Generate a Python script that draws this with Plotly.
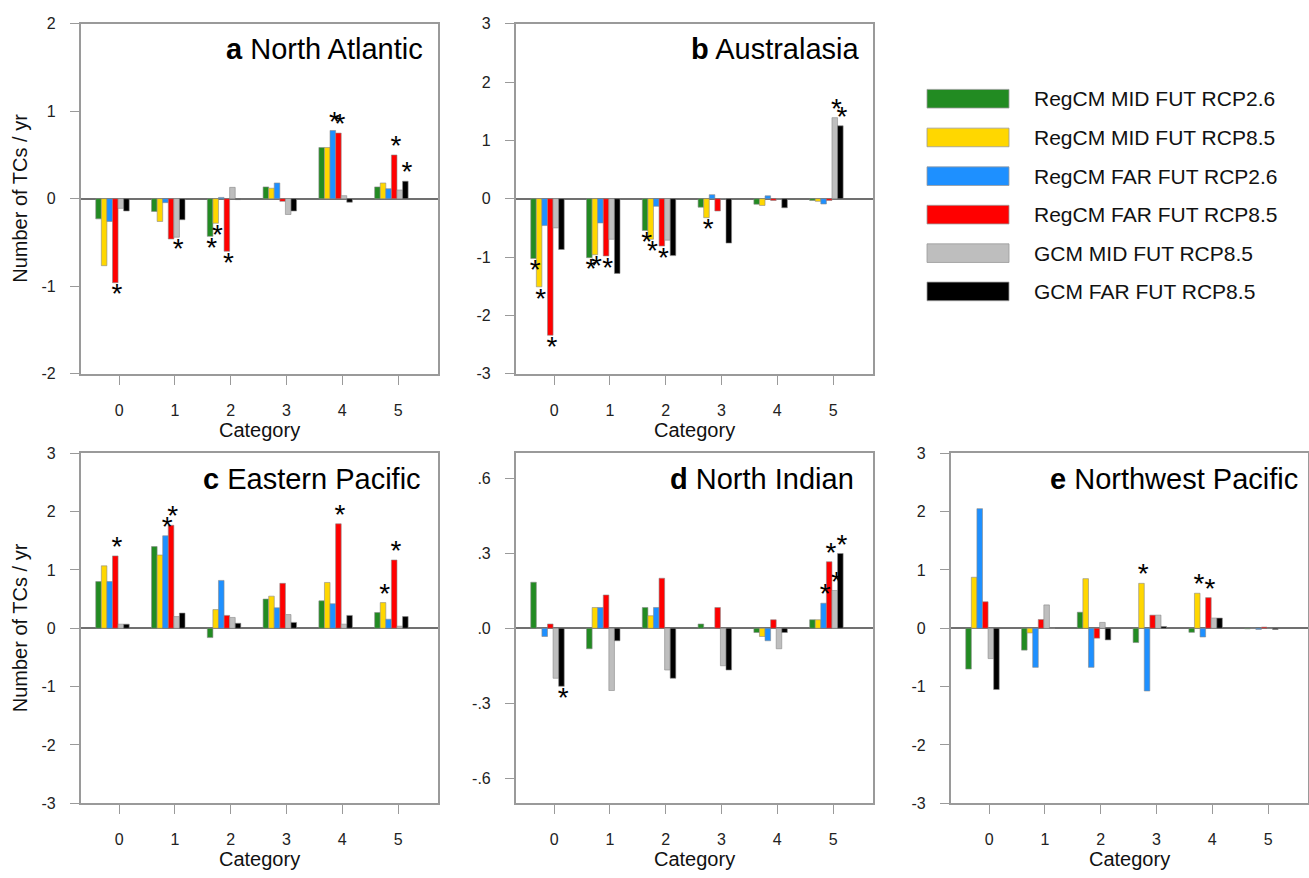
import plotly.graph_objects as go

FONT = "Liberation Sans, Arial, Helvetica, sans-serif"
W, H = 1309, 878

CATEGORIES = [0, 1, 2, 3, 4, 5]
SERIES = ["RegCM MID FUT RCP2.6", "RegCM MID FUT RCP8.5", "RegCM FAR FUT RCP2.6",
          "RegCM FAR FUT RCP8.5", "GCM MID FUT RCP8.5", "GCM FAR FUT RCP8.5"]
COLORS = ["#228B22", "#FFD700", "#1E90FF", "#FF0000", "#BEBEBE", "#000000"]

# rows = series (order of SERIES), columns = categories 0..5
NORTH_ATLANTIC = [
    [-0.23, -0.145, -0.43, 0.135, 0.585, 0.135],
    [-0.765, -0.26, -0.28, 0.12, 0.585, 0.18],
    [-0.26, -0.045, 0.015, 0.18, 0.78, 0.115],
    [-0.96, -0.46, -0.60, -0.03, 0.75, 0.50],
    [-0.11, -0.44, 0.13, -0.18, 0.035, 0.10],
    [-0.14, -0.24, -0.01, -0.14, -0.04, 0.20],
]
AUSTRALASIA = [
    [-1.025, -1.01, -0.545, -0.145, -0.095, -0.03],
    [-1.51, -0.96, -0.695, -0.325, -0.115, -0.045],
    [-0.46, -0.415, -0.13, 0.07, 0.05, -0.09],
    [-2.34, -0.98, -0.81, -0.21, -0.03, -0.03],
    [-0.50, -0.695, -0.71, 0.0, -0.01, 1.39],
    [-0.87, -1.28, -0.975, -0.76, -0.155, 1.25],
]
EASTERN_PACIFIC = [
    [0.80, 1.40, -0.16, 0.50, 0.47, 0.27],
    [1.07, 1.255, 0.32, 0.55, 0.785, 0.44],
    [0.80, 1.585, 0.82, 0.35, 0.42, 0.155],
    [1.24, 1.765, 0.22, 0.77, 1.79, 1.17],
    [0.07, 0.20, 0.185, 0.235, 0.07, 0.035],
    [0.07, 0.26, 0.085, 0.10, 0.22, 0.20],
]
NORTH_INDIAN = [
    [0.184, -0.082, 0.083, 0.017, -0.017, 0.034],
    [0.0, 0.083, 0.05, 0.0, -0.033, 0.034],
    [-0.033, 0.083, 0.083, 0.0, -0.05, 0.10],
    [0.017, 0.133, 0.20, 0.083, 0.034, 0.266],
    [-0.20, -0.249, -0.167, -0.15, -0.082, 0.151],
    [-0.232, -0.05, -0.20, -0.167, -0.017, 0.299],
]
NORTHWEST_PACIFIC = [
    [-0.70, -0.375, 0.275, -0.245, -0.07, -0.01],
    [0.874, -0.08, 0.85, 0.77, 0.60, 0.0],
    [2.05, -0.67, -0.67, -1.075, -0.15, -0.02],
    [0.454, 0.15, -0.17, 0.225, 0.525, 0.02],
    [-0.52, 0.40, 0.10, 0.225, 0.175, 0.0],
    [-1.05, 0.0, -0.20, 0.03, 0.175, -0.02],
]

# significance markers: (category, series index)
NA_STARS = [(0, 3), (1, 4), (2, 0), (2, 1), (2, 3), (4, 2), (4, 3), (5, 3), (5, 5)]
AU_STARS = [(0, 0), (0, 1), (0, 3), (1, 0), (1, 1), (1, 3), (2, 0), (2, 1), (2, 3),
            (3, 1), (5, 4), (5, 5)]
EP_STARS = [(0, 3), (1, 2), (1, 3), (4, 3), (5, 1), (5, 3)]
NI_STARS = [(0, 5), (5, 2), (5, 3), (5, 4), (5, 5)]
WP_STARS = [(3, 1), (4, 1), (4, 3)]

PANELS = [
    dict(letter="a", name="North Atlantic", data=NORTH_ATLANTIC, stars=NA_STARS,
         yr=[-2, 2], tv=[-2, -1, 0, 1, 2], tt=["-2", "-1", "0", "1", "2"],
         px=(80.7, 16), title_x=425, ytitle=True),
    dict(letter="b", name="Australasia", data=AUSTRALASIA, stars=AU_STARS,
         yr=[-3, 3], tv=[-3, -2, -1, 0, 1, 2, 3], tt=["-3", "-2", "-1", "0", "1", "2", "3"],
         px=(515.7, 16), title_x=862, ytitle=False),
    dict(letter="c", name="Eastern Pacific", data=EASTERN_PACIFIC, stars=EP_STARS,
         yr=[-3, 3], tv=[-3, -2, -1, 0, 1, 2, 3], tt=["-3", "-2", "-1", "0", "1", "2", "3"],
         px=(80.7, 454), title_x=423, ytitle=True),
    dict(letter="d", name="North Indian", data=NORTH_INDIAN, stars=NI_STARS,
         yr=[-0.7, 0.7], tv=[-0.6, -0.3, 0, 0.3, 0.6], tt=["-.6", "-.3", ".0", ".3", ".6"],
         px=(515.7, 454), title_x=856, ytitle=False),
    dict(letter="e", name="Northwest Pacific", data=NORTHWEST_PACIFIC, stars=WP_STARS,
         yr=[-3, 3], tv=[-3, -2, -1, 0, 1, 2, 3], tt=["-3", "-2", "-1", "0", "1", "2", "3"],
         px=(950.7, 454), title_x=1300, ytitle=False),
]

BOX_W, BOX_H = 357, 357
BAR_W = 0.1
GROUP_START = -0.42
XR = [-0.69, 5.71]

fig = go.Figure()
annotations = []
shapes = []

for k, p in enumerate(PANELS):
    sfx = "" if k == 0 else str(k + 1)
    xa, ya = "x" + sfx, "y" + sfx
    left, top = p["px"]
    xdom = [left / W, (left + BOX_W) / W]
    ydom = [1 - (top + BOX_H) / H, 1 - top / H]
    ppu = BOX_H / (p["yr"][1] - p["yr"][0])

    for i, (s, c) in enumerate(zip(SERIES, COLORS)):
        fig.add_trace(go.Bar(
            x=CATEGORIES, y=p["data"][i], width=BAR_W, offset=GROUP_START + BAR_W * i,
            marker=dict(color=c, line=dict(color="#8a8a8a", width=0.6)),
            name=s, showlegend=False, xaxis=xa, yaxis=ya))

    sx, sy = [], []
    for cat, si in p["stars"]:
        v = p["data"][si][cat]
        sx.append(cat + GROUP_START + BAR_W * si + BAR_W / 2 + 0.03)
        if v >= 0:
            sy.append(v + 7.0 / ppu)
        else:
            sy.append(v - 14.0 / ppu)
    fig.add_trace(go.Scatter(
        x=sx, y=sy, mode="text", text=["*"] * len(sx), textposition="middle center",
        textfont=dict(family=FONT, size=28, color="black"), cliponaxis=False,
        showlegend=False, hoverinfo="skip", xaxis=xa, yaxis=ya))

    axis_common = dict(showline=True, linecolor="#9a9a9a", linewidth=1.5, mirror=True,
                       showgrid=False, ticks="outside", ticklen=9, tickcolor="#9a9a9a",
                       tickwidth=1.2, tickfont=dict(family=FONT, size=16, color="#222"))
    fig.update_layout({
        "xaxis" + sfx: dict(domain=xdom, range=XR, tickvals=CATEGORIES, anchor=ya,
                            zeroline=False, ticklabelstandoff=12, **axis_common),
        "yaxis" + sfx: dict(domain=ydom, range=p["yr"], tickvals=p["tv"], ticktext=p["tt"],
                            anchor=xa, zeroline=True, zerolinecolor="#707070",
                            zerolinewidth=1.5, ticklabelstandoff=11, **axis_common),
    })

    annotations.append(dict(
        text="<b>%s</b> %s" % (p["letter"], p["name"]), xref="paper", yref="paper",
        x=p["title_x"] / W, y=1 - (top + 26) / H, xanchor="right", yanchor="middle",
        showarrow=False, font=dict(family=FONT, size=29, color="black")))
    annotations.append(dict(
        text="Category", xref="paper", yref="paper",
        x=(left + BOX_W / 2) / W, y=1 - (top + BOX_H + 57) / H,
        xanchor="center", yanchor="middle", showarrow=False,
        font=dict(family=FONT, size=20, color="#111")))
    if p["ytitle"]:
        annotations.append(dict(
            text="Number of TCs / yr", xref="paper", yref="paper",
            x=20 / W, y=1 - (top + BOX_H / 2) / H, xanchor="center", yanchor="middle",
            textangle=-90, showarrow=False, font=dict(family=FONT, size=20, color="#111")))

# legend drawn as boxes + labels
LEG_Y = [92.5, 132, 171.5, 210.7, 250, 289]
for s, c, yc in zip(SERIES, COLORS, LEG_Y):
    shapes.append(dict(type="rect", xref="paper", yref="paper",
                       x0=927 / W, x1=1009 / W, y0=1 - (yc + 9.5) / H, y1=1 - (yc - 9.5) / H,
                       fillcolor=c, line=dict(color="#9a9a9a", width=0.8)))
    annotations.append(dict(text=s, xref="paper", yref="paper", x=1032 / W, y=1 - yc / H,
                            xanchor="left", yanchor="middle", showarrow=False,
                            font=dict(family=FONT, size=21, color="#111")))

fig.update_layout(
    width=W, height=H, margin=dict(l=0, r=0, t=0, b=0),
    paper_bgcolor="white", plot_bgcolor="white", barmode="overlay",
    annotations=annotations, shapes=shapes, showlegend=False,
    font=dict(family=FONT),
)

fig.write_html("out.html")
